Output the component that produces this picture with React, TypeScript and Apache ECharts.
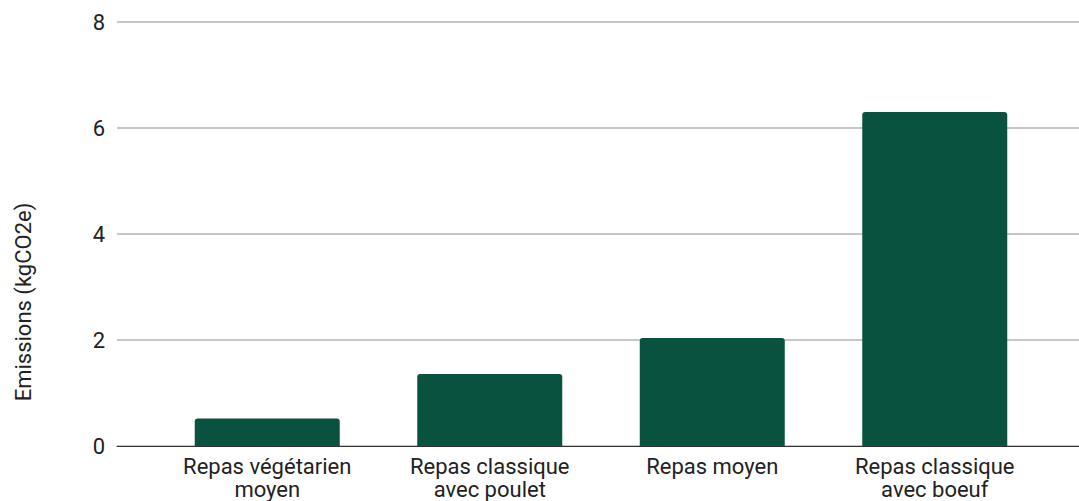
import React, { useEffect, useRef } from "react";
import * as echarts from "echarts";

const categories = [
  "Repas végétarien\nmoyen",
  "Repas classique\navec poulet",
  "Repas moyen",
  "Repas classique\navec boeuf",
];
const emissions = [0.52, 1.36, 2.04, 6.3];
const yTicks = { min: 0, max: 8, interval: 2 };
const yTitle = "Emissions (kgCO2e)";

export default function App() {
  const ref = useRef<HTMLDivElement>(null);
  useEffect(() => {
    if (!ref.current) return;
    const chart = echarts.init(ref.current, null, { renderer: "svg" });
    const font = "Roboto";
    chart.setOption({
      animation: false,
      backgroundColor: "#ffffff",
      grid: [
        { left: 117, right: 0, top: 22, bottom: 55 },
        { left: 156, right: 33, top: 22, bottom: 55 },
      ],
      xAxis: [
        {
          gridIndex: 0,
          type: "category",
          data: categories,
          axisLine: { show: true, lineStyle: { color: "#333333", width: 1 } },
          axisTick: { show: false },
          axisLabel: { show: false },
          splitLine: { show: false },
        },
        {
          gridIndex: 1,
          type: "category",
          data: categories,
          axisLine: { show: false },
          axisTick: { show: false },
          axisLabel: {
            color: "#222222",
            fontSize: 22,
            fontFamily: font,
            lineHeight: 23,
            margin: 9,
            interval: 0,
          },
        },
      ],
      yAxis: [
        {
          gridIndex: 0,
          type: "value",
          min: yTicks.min,
          max: yTicks.max,
          interval: yTicks.interval,
          axisLine: { show: false },
          axisTick: { show: false },
          axisLabel: {
            color: "#222222",
            fontSize: 22,
            fontFamily: font,
            margin: 12,
          },
          splitLine: { show: true, lineStyle: { color: "#c6c6c6", width: 2 } },
        },
        {
          gridIndex: 1,
          type: "value",
          min: yTicks.min,
          max: yTicks.max,
          interval: yTicks.interval,
          axisLine: { show: false },
          axisTick: { show: false },
          axisLabel: { show: false },
          splitLine: { show: false },
        },
      ],
      series: [
        {
          type: "bar",
          xAxisIndex: 1,
          yAxisIndex: 1,
          data: emissions,
          barWidth: 145,
          itemStyle: { color: "#0a5240", borderRadius: [3, 3, 0, 0] },
          z: 3,
        },
      ],
      graphic: [
        {
          type: "text",
          x: 23,
          y: 302,
          rotation: Math.PI / 2,
          style: {
            text: yTitle,
            fill: "#222222",
            font: `22px ${font}`,
            align: "center",
            verticalAlign: "middle",
          },
        },
      ],
    });
    return () => chart.dispose();
  }, []);
  return <div ref={ref} style={{ width: 1079, height: 501, position: "absolute", left: 0, top: 0 }} />;
}
